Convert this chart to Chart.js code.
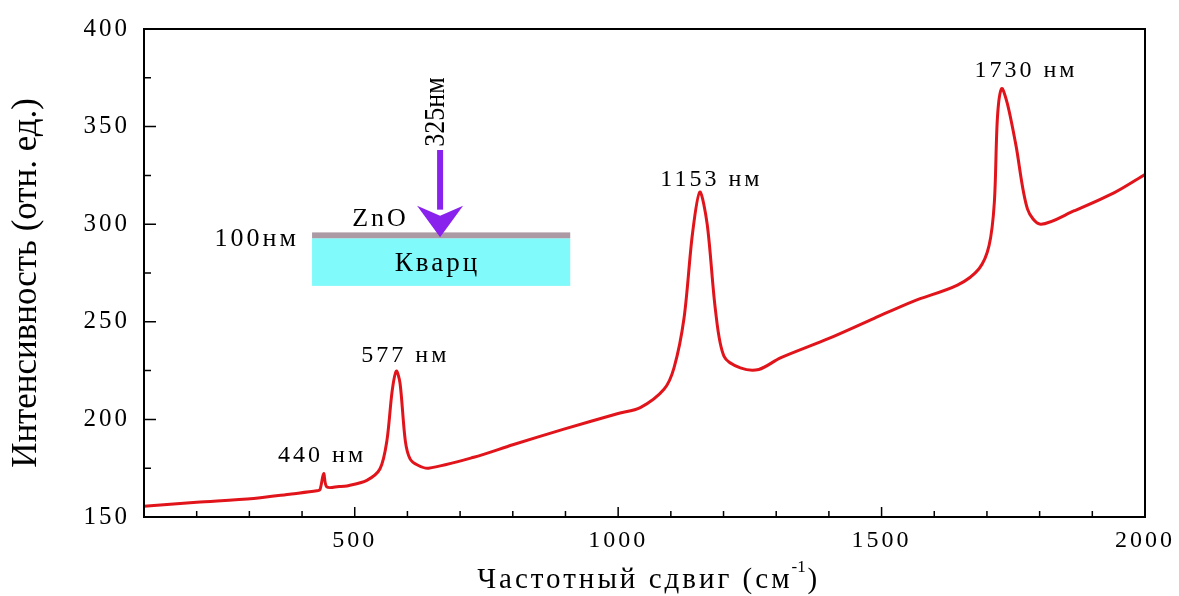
<!DOCTYPE html>
<html lang="ru">
<head>
    <meta charset="UTF-8">
    <title>Спектр КРС ZnO / кварц</title>
    <style>
        body {
            margin: 0;
            padding: 0;
            background-color: #fff;
        }

        #chartContainer {
            width: 1179px;
            height: 596px;
        }
    </style>
</head>
<body>
    <div id="chartContainer">
        <canvas id="spectrChart"></canvas>
    </div>

    <script src="https://cdn.jsdelivr.net/npm/chart.js"></script>
    <script>
        // Данные спектра (читаются с картинки)
        const sdvig = [100, 200, 308, 380, 428, 434, 441, 447, 470, 485, 523, 548, 561, 571, 579, 586, 596, 605, 620, 640,
            726, 800, 897, 1000, 1042, 1087, 1106, 1125, 1141, 1155, 1169, 1185, 1201, 1232, 1267, 1308,
            1400, 1486, 1560, 1644, 1685, 1704, 1714, 1720, 1728, 1739, 1755, 1777, 1802, 1866, 1942, 2000];
        const intensivnost = [155.5, 157.5, 159.5, 161.8, 163.4, 164, 172.2, 165.4, 165.6, 165.9, 168.8, 174.7, 189, 214.5, 224.8, 218.5, 189, 179.8, 176.5, 175,
            180.6, 187, 195, 203, 206, 215.4, 226.4, 251.8, 295, 316.5, 300, 255.2, 232.3, 226.4, 225.6, 231.5,
            241.5, 251.8, 260.5, 268.8, 277.2, 289, 311, 355, 369.5, 361.5, 340.5, 307.7, 300, 306.9, 316.2, 325.5];

        // Подписи пиков
        const pikiTekst = ['440 нм', '577 нм', '1153 нм', '1730 нм'];
        const pikiX = [438, 596, 1177, 1774];
        const pikiY = [181.5, 232.8, 323, 378.6];

        // Метки осей
        const metkiX = [500, 1000, 1500, 2000];
        const metkiY = [150, 200, 250, 300, 350, 400];

        const shrift = "'Liberation Serif', 'DejaVu Serif', serif";

        // Разрядка для подписей делений (Chart.js рисует их в этом состоянии ctx)
        const razryadka = {
            id: 'razryadka',
            beforeDraw(chart) {
                chart.ctx.letterSpacing = '3px';
            }
        };

        // Рамка, внутренние засечки, подписи осей, вставка со схемой образца
        const risovanie = {
            id: 'risovanie',
            afterDatasetsDraw(chart) {
                const ctx = chart.ctx;
                const x = chart.scales.x;
                const y = chart.scales.y;
                const a = chart.chartArea;

                ctx.save();
                ctx.letterSpacing = '0px';

                // рамка
                ctx.strokeStyle = '#000';
                ctx.lineWidth = 2;
                ctx.strokeRect(a.left, a.top, a.right - a.left, a.bottom - a.top);

                // засечки внутрь
                ctx.lineWidth = 1.5;
                ctx.beginPath();
                for (let v = 200; v < 2000; v += 100) {
                    const px = x.getPixelForValue(v);
                    const dl = (v % 500 === 0) ? 10 : 6;
                    ctx.moveTo(px, a.bottom);
                    ctx.lineTo(px, a.bottom - dl);
                }
                for (let v = 175; v < 400; v += 25) {
                    const py = y.getPixelForValue(v);
                    const dl = (v % 50 === 0) ? 12 : 7;
                    ctx.moveTo(a.left, py);
                    ctx.lineTo(a.left + dl, py);
                }
                ctx.stroke();

                // подписи пиков
                ctx.fillStyle = '#000';
                ctx.textAlign = 'center';
                ctx.textBaseline = 'middle';
                ctx.font = '24px ' + shrift;
                ctx.letterSpacing = '3px';
                pikiTekst.forEach((t, i) => {
                    ctx.fillText(t, x.getPixelForValue(pikiX[i]), y.getPixelForValue(pikiY[i]));
                });

                // вставка: подложка кварц и слой ZnO
                const x1 = x.getPixelForValue(419);
                const x2 = x.getPixelForValue(909);
                ctx.fillStyle = '#80fafa';
                ctx.fillRect(x1, y.getPixelForValue(292.8), x2 - x1, y.getPixelForValue(268.4) - y.getPixelForValue(292.8));
                ctx.fillStyle = '#ab9aa4';
                ctx.fillRect(x1, y.getPixelForValue(295.8), x2 - x1, y.getPixelForValue(292.8) - y.getPixelForValue(295.8));

                ctx.fillStyle = '#000';
                ctx.font = '27px ' + shrift;
                ctx.letterSpacing = '3px';
                ctx.fillText('Кварц', x.getPixelForValue(657), y.getPixelForValue(279.6));
                ctx.font = '26px ' + shrift;
                ctx.letterSpacing = '3px';
                ctx.fillText('ZnO', x.getPixelForValue(549), y.getPixelForValue(302.4));
                ctx.fillText('100нм', x.getPixelForValue(314), y.getPixelForValue(292.3));
                ctx.letterSpacing = '0px';

                // стрелка лазера
                const ax = x.getPixelForValue(662);
                const yTop = y.getPixelForValue(338);
                const yHead = y.getPixelForValue(309.5);
                const yTip = y.getPixelForValue(293.3);
                ctx.strokeStyle = '#8a22ee';
                ctx.fillStyle = '#8a22ee';
                ctx.lineWidth = 6;
                ctx.beginPath();
                ctx.moveTo(ax, yTop);
                ctx.lineTo(ax, yHead + 4);
                ctx.stroke();
                ctx.beginPath();
                ctx.moveTo(ax - 23, yHead);
                ctx.lineTo(ax, yHead + 10);
                ctx.lineTo(ax + 23, yHead);
                ctx.lineTo(ax, yTip);
                ctx.closePath();
                ctx.fill();

                ctx.fillStyle = '#000';
                ctx.save();
                ctx.translate(x.getPixelForValue(656), y.getPixelForValue(357.5));
                ctx.rotate(-Math.PI / 2);
                ctx.scale(1, 1.1);
                ctx.font = '26px ' + shrift;
                ctx.fillText('325нм', 0, 0);
                ctx.restore();

                // подпись оси Y (узкий шрифт)
                ctx.save();
                ctx.translate(27, 283);
                ctx.rotate(-Math.PI / 2);
                ctx.scale(0.97, 1);
                ctx.font = '36px ' + shrift;
                ctx.fillText('Интенсивность (отн. ед.)', 0, 0);
                ctx.restore();

                // подпись оси X
                ctx.save();
                ctx.translate((a.left + a.right) / 2, 580);
                ctx.font = '29px ' + shrift;
                ctx.letterSpacing = '3px';
                ctx.textAlign = 'right';
                ctx.fillText('Частотный сдвиг (см', 148, 0);
                ctx.font = '17px ' + shrift;
                ctx.textAlign = 'left';
                ctx.letterSpacing = '0px';
                ctx.fillText('-1', 147, -12);
                ctx.font = '29px ' + shrift;
                ctx.fillText(')', 163, 0);
                ctx.restore();

                ctx.restore();
            }
        };

        new Chart(document.getElementById('spectrChart'), {
            type: 'line',
            data: {
                datasets: [{
                    data: sdvig.map((v, i) => ({ x: v, y: intensivnost[i] })),
                    borderColor: '#e0141a',
                    borderWidth: 3,
                    pointRadius: 0,
                    tension: 0.3,
                    fill: false
                }]
            },
            options: {
                responsive: true,
                maintainAspectRatio: false,
                animation: false,
                layout: {
                    padding: { top: 25, right: 34 }
                },
                plugins: {
                    legend: { display: false },
                    tooltip: { enabled: false }
                },
                scales: {
                    x: {
                        type: 'linear',
                        min: 100,
                        max: 2000,
                        afterBuildTicks: s => { s.ticks = metkiX.map(v => ({ value: v })); },
                        afterFit: s => { s.height = 79; },
                        grid: { display: false, drawTicks: false },
                        border: { display: false },
                        ticks: {
                            padding: 9,
                            color: '#000',
                            callback: v => String(v),
                            font: { family: shrift, size: 24 }
                        }
                    },
                    y: {
                        min: 150,
                        max: 400,
                        afterBuildTicks: s => { s.ticks = metkiY.map(v => ({ value: v })); },
                        afterFit: s => { s.width = 144; },
                        grid: { display: false, drawTicks: false },
                        border: { display: false },
                        ticks: {
                            padding: 14,
                            color: '#000',
                            callback: v => String(v),
                            font: { family: shrift, size: 25 }
                        }
                    }
                }
            },
            plugins: [razryadka, risovanie]
        });
    </script>
</body>
</html>
